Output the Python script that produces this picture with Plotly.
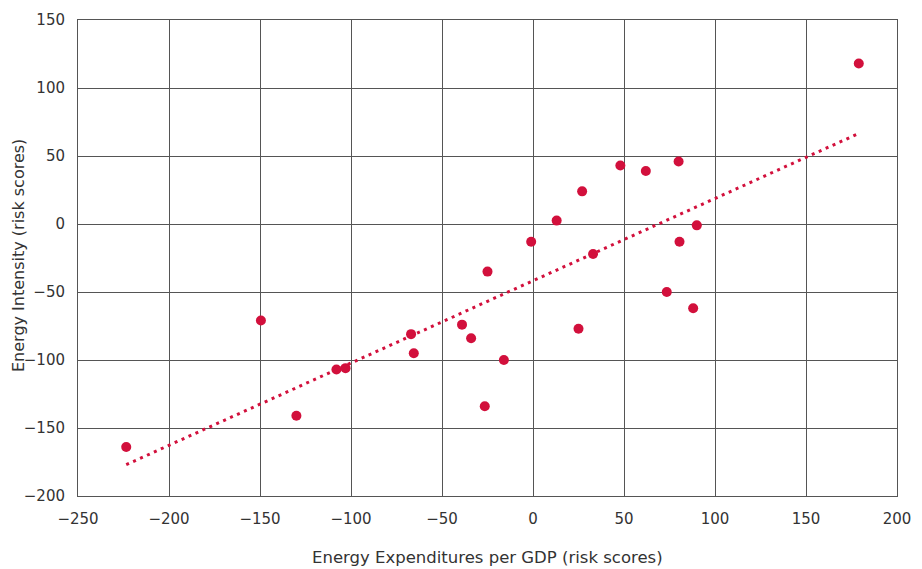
import numpy as np
import plotly.graph_objects as go

# Energy Expenditures per GDP (risk scores)
x_vals = [179, 48, 62, 80, 27, 13, -1, 90, 80.5, -25, 33, 73.5,
          88, 25, -39, -34, -16, -26.5,
          -149.5, -67, -65.5, -108, -103, -130, -223.5]
# Energy Intensity (risk scores)
y_vals = [118, 43, 39, 46, 24, 2.5, -13, -1, -13, -35, -22, -50,
          -62, -77, -74, -84, -100, -134,
          -71, -81, -95, -107, -106, -141, -164]

x_ticks = [-250, -200, -150, -100, -50, 0, 50, 100, 150, 200]
y_ticks = [-200, -150, -100, -50, 0, 50, 100, 150]

RED = "#D2103C"
GRID = "#555555"
TXT = "#333333"
FONT = "'DejaVu Sans', 'Open Sans', sans-serif"

xa = np.array(x_vals)
ya = np.array(y_vals)
slope, intercept = np.polyfit(xa, ya, 1)
tx = np.array([xa.min(), xa.max()])
ty = slope * tx + intercept

fig = go.Figure()
fig.add_trace(go.Scatter(
    x=tx, y=ty, mode="lines",
    line=dict(color=RED, width=3, dash="3px,4.6px"),
    hoverinfo="skip", showlegend=False))
fig.add_trace(go.Scatter(
    x=x_vals, y=y_vals, mode="markers",
    marker=dict(color=RED, size=10, line=dict(width=0)),
    showlegend=False))

axis_common = dict(
    showgrid=True, gridcolor=GRID, gridwidth=1,
    showline=True, linecolor=GRID, linewidth=1, mirror=True,
    zeroline=False, ticks="", automargin=False,
    tickfont=dict(family=FONT, size=15, color=TXT),
    ticklabelstandoff=9,
)

# page body adds an 8px offset; margins compensate for it
fig.update_layout(
    width=922, height=569,
    margin=dict(l=70, r=33, t=12, b=81),
    paper_bgcolor="white", plot_bgcolor="white",
    font=dict(family=FONT, color=TXT),
    xaxis=dict(range=[-250, 200], tickvals=x_ticks, **axis_common),
    yaxis=dict(range=[-200, 150], tickvals=y_ticks, **axis_common),
    annotations=[
        dict(text="Energy Expenditures per GDP (risk scores)",
             xref="paper", yref="paper", x=0.5, y=0,
             xanchor="center", yanchor="middle", yshift=-61,
             showarrow=False, font=dict(family=FONT, size=16.5, color=TXT)),
        dict(text="Energy Intensity (risk scores)",
             xref="paper", yref="paper", x=0, y=0.5,
             xanchor="center", yanchor="middle", xshift=-60, yshift=2,
             textangle=-90,
             showarrow=False, font=dict(family=FONT, size=16, color=TXT)),
    ],
)

fig.write_html("out.html")
